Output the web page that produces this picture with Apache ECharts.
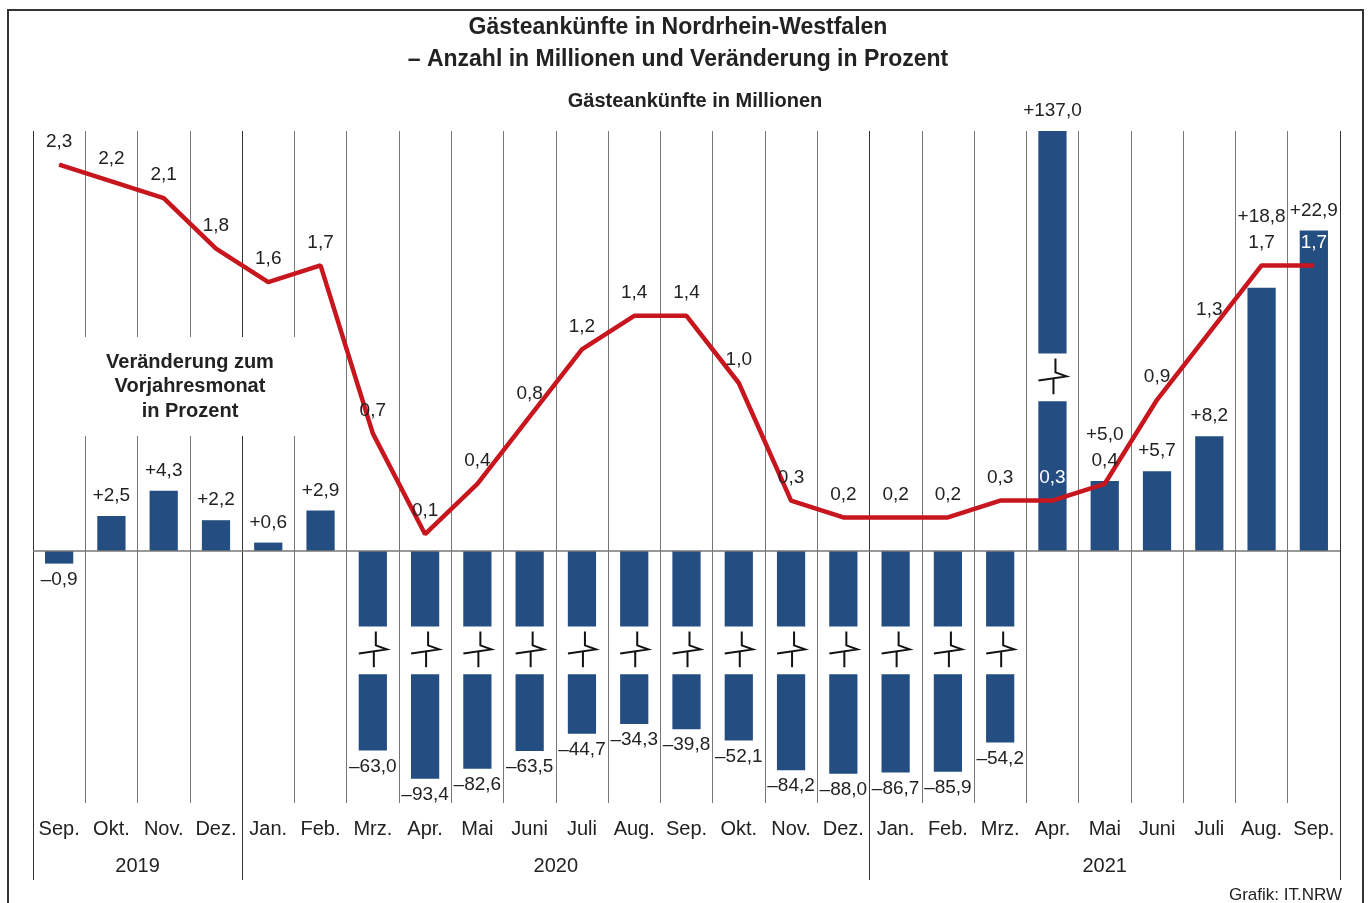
<!DOCTYPE html>
<html>
<head>
<meta charset="utf-8">
<script src="https://cdn.jsdelivr.net/npm/echarts@6/dist/echarts.min.js"></script>
<style>
  html, body { margin: 0; padding: 0; background: #fff; }
  #chart { width: 1370px; height: 903px; }
</style>
</head>
<body>
<div id="chart"></div>
<script>
const months = ['Sep.', 'Okt.', 'Nov.', 'Dez.', 'Jan.', 'Feb.', 'Mrz.', 'Apr.', 'Mai', 'Juni', 'Juli', 'Aug.',
  'Sep.', 'Okt.', 'Nov.', 'Dez.', 'Jan.', 'Feb.', 'Mrz.', 'Apr.', 'Mai', 'Juni', 'Juli', 'Aug.', 'Sep.'];
const years = ['2019', '2020', '2021'];
const yearSpans = [4, 12, 9];
// Veränderung zum Vorjahresmonat in Prozent
const changePct = [-0.9, 2.5, 4.3, 2.2, 0.6, 2.9, -63.0, -93.4, -82.6, -63.5, -44.7, -34.3,
  -39.8, -52.1, -84.2, -88.0, -86.7, -85.9, -54.2, 137.0, 5.0, 5.7, 8.2, 18.8, 22.9];
// Gästeankünfte in Millionen
const arrivalsMio = [2.3, 2.2, 2.1, 1.8, 1.6, 1.7, 0.7, 0.1, 0.4, 0.8, 1.2, 1.4,
  1.4, 1.0, 0.3, 0.2, 0.2, 0.2, 0.3, 0.3, 0.4, 0.9, 1.3, 1.7, 1.7];

const FONT = '"Liberation Sans", Arial, Helvetica, sans-serif';
const BAR_COLOR = '#244e82';
const LINE_COLOR = '#c8161e';
const TEXT_COLOR = '#222';

// bar axis in percent, line axis in millions (same zero line)
const BAR_MIN = -18, BAR_MAX = 30;
const LINE_MIN = -1.5, LINE_MAX = 2.5;
const RATIO = (BAR_MAX - BAR_MIN) / (LINE_MAX - LINE_MIN);
const GRID = { left: 33, right: 30, top: 131, bottom: 100 };
const PX_PER_UNIT = (903 - GRID.top - GRID.bottom) / (BAR_MAX - BAR_MIN);
const LINE_LABEL_DIST = 13;

// axis break for the big changes
const BREAK_AT = 30;
const NEG_GAP = [-5.4, -8.8];
const POS_GAP = [10.7, 14.1];

function barEnd(v) {
  if (v < -BREAK_AT) return -(10.1 + 0.066 * -v);
  if (v > BREAK_AT) return 14.1 + 0.116 * v;
  return v;
}

function fmt(v) {
  return v.toFixed(1).replace('.', ',');
}

function fmtPct(v) {
  return (v > 0 ? '+' : '–') + fmt(Math.abs(v));
}

function renderBar(params, api) {
  const i = api.value(0);
  const v = api.value(1);
  const base = api.coord([i, 0]);
  const cx = base[0];
  const y0 = base[1];
  const bw = api.size([1, 0])[0] * 0.54;
  const yEnd = api.coord([i, barEnd(v)])[1];
  const rect = (ya, yb) => ({
    type: 'rect',
    shape: { x: cx - bw / 2, y: Math.min(ya, yb), width: bw, height: Math.abs(yb - ya) },
    style: { fill: BAR_COLOR }
  });
  const children = [];

  if (Math.abs(v) > BREAK_AT) {
    const gap = v < 0 ? NEG_GAP : POS_GAP;
    const ya = api.coord([i, gap[0]])[1];
    const yb = api.coord([i, gap[1]])[1];
    const top = Math.min(ya, yb);
    const bot = Math.max(ya, yb);
    const cy = (top + bot) / 2;
    children.push(rect(y0, ya), rect(yb, yEnd));
    children.push({
      type: 'polyline',
      shape: { points: [[cx + 3, top + 5], [cx + 3, cy - 5], [cx + 14, cy - 1], [cx - 14, cy + 3]] },
      style: { stroke: '#111', lineWidth: 2, fill: null }
    });
    children.push({
      type: 'line',
      shape: { x1: cx + 1, y1: cy + 1, x2: cx + 1, y2: bot - 7 },
      style: { stroke: '#111', lineWidth: 2 }
    });
  } else {
    children.push(rect(y0, yEnd));
  }

  let ly;
  if (v >= 0) {
    ly = yEnd - 20;
    const lineLabelY = api.coord([i, arrivalsMio[i] * RATIO])[1] - (LINE_LABEL_DIST + 10);
    if (lineLabelY > yEnd - 55 && lineLabelY < yEnd + 5) ly = lineLabelY - 26;
  } else {
    ly = yEnd + 16;
  }
  children.push({
    type: 'text',
    style: {
      text: fmtPct(v), x: cx, y: ly,
      align: 'center', verticalAlign: 'middle', textAlign: 'center', textVerticalAlign: 'middle',
      fill: TEXT_COLOR, font: '19px ' + FONT
    }
  });
  return { type: 'group', children };
}

const lineData = arrivalsMio.map((m, i) => {
  const labelUnits = m * RATIO + (LINE_LABEL_DIST + 10) / PX_PER_UNIT;
  const inside = changePct[i] > 0 && labelUnits < barEnd(changePct[i]) - 0.3;
  return {
    value: m,
    label: {
      show: true,
      position: 'top',
      distance: LINE_LABEL_DIST,
      fontSize: 19,
      fontFamily: FONT,
      color: inside ? '#fff' : TEXT_COLOR,
      formatter: fmt(m)
    }
  };
});

const chart = echarts.init(document.getElementById('chart'));

chart.setOption({
  animation: false,
  backgroundColor: '#fff',
  grid: GRID,
  xAxis: {
    type: 'category',
    data: months,
    boundaryGap: true,
    axisLine: { show: false },
    axisTick: { show: false },
    axisLabel: { interval: 0, margin: 16, fontSize: 20, fontFamily: FONT, color: TEXT_COLOR },
    splitLine: { show: true, interval: 0, lineStyle: { color: '#777', width: 1 } }
  },
  yAxis: [
    { type: 'value', min: BAR_MIN, max: BAR_MAX, show: false, splitLine: { show: false } },
    { type: 'value', min: LINE_MIN, max: LINE_MAX, show: false, splitLine: { show: false } }
  ],
  series: [
    {
      type: 'custom',
      z: 2,
      renderItem: renderBar,
      data: changePct.map((v, i) => [i, v]),
      encode: { x: 0, y: 1 },
      markLine: {
        silent: true,
        symbol: 'none',
        label: { show: false },
        lineStyle: { color: '#777', width: 1.5, type: 'solid' },
        data: [{ yAxis: 0 }]
      }
    },
    {
      type: 'line',
      yAxisIndex: 1,
      z: 4,
      data: lineData,
      symbol: 'circle',
      symbolSize: 1,
      showSymbol: true,
      lineStyle: { color: LINE_COLOR, width: 4.5 },
      itemStyle: { color: LINE_COLOR },
      label: {
        show: true,
        position: 'top',
        distance: LINE_LABEL_DIST,
        fontSize: 19,
        fontFamily: FONT,
        color: TEXT_COLOR
      },
      labelLayout: { hideOverlap: false }
    }
  ]
});

// year separators, year labels and static texts
const c0 = chart.convertToPixel({ xAxisIndex: 0 }, 0);
const band = chart.convertToPixel({ xAxisIndex: 0 }, 1) - c0;
const left = c0 - band / 2;
const graphics = [];
let k = 0;
const yearBounds = [0];
yearSpans.forEach((span, j) => {
  graphics.push({
    type: 'text', z: 1,
    style: {
      text: years[j], x: left + (k + span / 2) * band, y: 866,
      align: 'center', verticalAlign: 'middle', textAlign: 'center', textVerticalAlign: 'middle',
      font: '20px ' + FONT, fill: TEXT_COLOR
    }
  });
  k += span;
  yearBounds.push(k);
});
yearBounds.forEach((b) => {
  const x = Math.round(left + b * band) + 0.5;
  graphics.push({
    type: 'line', z: 1,
    shape: { x1: x, y1: GRID.top, x2: x, y2: 880 },
    style: { stroke: '#333', lineWidth: 1 }
  });
});

const center = (text, x, y, font) => ({
  type: 'text', z: 6,
  style: {
    text, x, y,
    align: 'center', verticalAlign: 'middle', textAlign: 'center', textVerticalAlign: 'middle',
    font, fill: TEXT_COLOR
  }
});

graphics.push(
  { type: 'rect', z: 5, shape: { x: 45, y: 337, width: 277, height: 99 }, style: { fill: '#fff' } },
  center('Veränderung zum', 190, 362, 'bold 20px ' + FONT),
  center('Vorjahresmonat', 190, 386, 'bold 20px ' + FONT),
  center('in Prozent', 190, 411, 'bold 20px ' + FONT),
  center('Gästeankünfte in Nordrhein-Westfalen', 678, 28, 'bold 23px ' + FONT),
  center('– Anzahl in Millionen und Veränderung in Prozent', 678, 60, 'bold 23px ' + FONT),
  center('Gästeankünfte in Millionen', 695, 101, 'bold 20px ' + FONT),
  {
    type: 'text', z: 6,
    style: {
      text: 'Grafik: IT.NRW', x: 1342, y: 895,
      align: 'right', verticalAlign: 'middle', textAlign: 'right', textVerticalAlign: 'middle',
      font: '17px ' + FONT, fill: TEXT_COLOR
    }
  },
  {
    type: 'rect', z: 6,
    shape: { x: 8, y: 10, width: 1355, height: 900 },
    style: { fill: null, stroke: '#333', lineWidth: 2 }
  }
);

chart.setOption({ graphic: graphics });
</script>
</body>
</html>
